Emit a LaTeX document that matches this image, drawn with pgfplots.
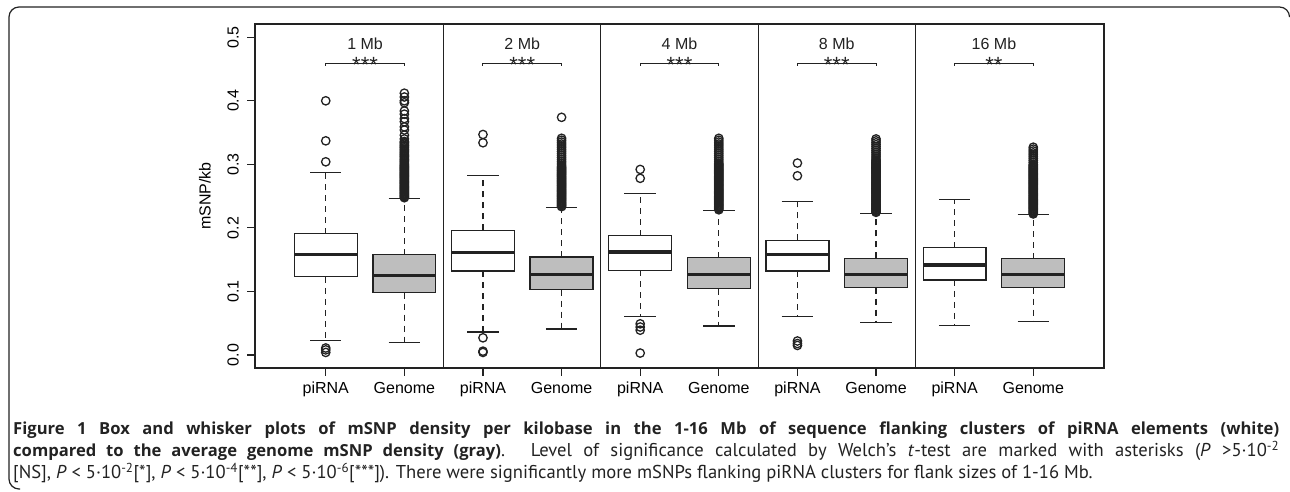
\documentclass[border=0pt]{standalone}
\usepackage{pgfplots}
\pgfplotsset{compat=1.18}
\usepgfplotslibrary{statistics}
\usepackage{fontspec}
\setmainfont{Liberation Sans}
\newfontfamily\capfont{PT Sans}
\newfontfamily\capbold{Open Sans}
\definecolor{rgray}{HTML}{BEBEBE}
\definecolor{ink}{HTML}{222222}

\pgfplotsset{
  rbox/.style={
    draw=ink, line width=1.3pt, mark=o, mark size=4.2pt,
    mark options={solid, line width=1.3pt, draw=ink},
    boxplot/box extend=0.8, boxplot/whisker extend=0.4,
    boxplot/every median/.style={line width=3.2pt},
    boxplot/draw/lower whisker/.code={%
      \draw[/pgfplots/boxplot/every whisker/.try, line width=1.1pt, dash pattern=on 6pt off 5pt]
        (boxplot cs:\pgfplotsboxplotvalue{lower quartile}) --
        (boxplot cs:\pgfplotsboxplotvalue{lower whisker});
      \draw[/pgfplots/boxplot/every whisker/.try, line width=1.2pt]
        (boxplot whisker cs:\pgfplotsboxplotvalue{lower whisker},0) --
        (boxplot whisker cs:\pgfplotsboxplotvalue{lower whisker},1);
    },
    boxplot/draw/upper whisker/.code={%
      \draw[/pgfplots/boxplot/every whisker/.try, line width=1.1pt, dash pattern=on 6pt off 5pt]
        (boxplot cs:\pgfplotsboxplotvalue{upper quartile}) --
        (boxplot cs:\pgfplotsboxplotvalue{upper whisker});
      \draw[/pgfplots/boxplot/every whisker/.try, line width=1.2pt]
        (boxplot whisker cs:\pgfplotsboxplotvalue{upper whisker},0) --
        (boxplot whisker cs:\pgfplotsboxplotvalue{upper whisker},1);
    },
  },
  white box/.style={rbox, boxplot/every box/.style={fill=white}},
  gray box/.style={rbox, boxplot/every box/.style={fill=rgray}},
}

\begin{document}
\begin{tikzpicture}[font=\fontsize{16}{19}\selectfont]
\useasboundingbox (0,0) rectangle (1290pt,492pt);
\draw[ink, line width=1.2pt, rounded corners=10pt] (20pt,3pt) -| (9pt,485pt) -| (1289.5pt,476pt);

\begin{axis}[
  at={(255pt,124pt)}, anchor=south west,
  width=849pt, height=344pt, scale only axis,
  xmin=0.1, xmax=10.9, ymin=-0.0205, ymax=0.5209,
  boxplot/draw direction=y,
  axis line style={ink, line width=1.2pt},
  xtick={1,...,10},
  xticklabels={piRNA,Genome,piRNA,Genome,piRNA,Genome,piRNA,Genome,piRNA,Genome},
  ytick={0,0.1,0.2,0.3,0.4,0.5},
  yticklabels={0.0,0.1,0.2,0.3,0.4,0.5},
  xtick pos=bottom, ytick pos=left, tick align=outside,
  major tick length=8pt,
  tick style={ink, line width=1.2pt},
  /pgf/number format/assume math mode=true,
  yticklabel style={rotate=90, anchor=south, inner xsep=0pt, inner ysep=8pt},
  xticklabel style={anchor=north, inner sep=0pt, yshift=-6pt},
  ylabel={mSNP/kb},
  every axis y label/.style={at={(axis description cs:-0.059,0.5)}, rotate=90, anchor=center},
  clip=false,
]
% 1 Mb
\addplot[white box, boxplot prepared={draw position=1, lower whisker=0.0225, lower quartile=0.123, median=0.1585, upper quartile=0.191, upper whisker=0.287}]
  table[row sep=\\, y index=0] {v\\ 0.400\\ 0.337\\ 0.304\\ 0.011\\ 0.008\\ 0.004\\};
\addplot[gray box, boxplot prepared={draw position=2, lower whisker=0.0195, lower quartile=0.098, median=0.1255, upper quartile=0.158, upper whisker=0.246}]
  table[row sep=\\, y index=0] {v\\ 0.412\\ 0.406\\ 0.400\\ 0.397\\ 0.384\\ 0.379\\ 0.372\\ 0.367\\ 0.359\\ 0.354\\ 0.346\\ 0.340\\ 0.336\\ 0.334\\ 0.332\\ 0.330\\ 0.328\\ 0.326\\ 0.324\\ 0.322\\ 0.320\\ 0.318\\ 0.316\\ 0.314\\ 0.312\\ 0.310\\ 0.308\\ 0.306\\ 0.304\\ 0.302\\ 0.300\\ 0.2985\\ 0.297\\ 0.2955\\ 0.294\\ 0.2925\\ 0.291\\ 0.2895\\ 0.288\\ 0.2865\\ 0.285\\ 0.2835\\ 0.282\\ 0.2805\\ 0.279\\ 0.2775\\ 0.276\\ 0.2745\\ 0.273\\ 0.2715\\ 0.270\\ 0.2685\\ 0.267\\ 0.2655\\ 0.264\\ 0.2625\\ 0.261\\ 0.2595\\ 0.258\\ 0.2565\\ 0.255\\ 0.2535\\ 0.252\\ 0.2505\\ 0.249\\ 0.2475\\};
% 2 Mb
\addplot[white box, boxplot prepared={draw position=3, lower whisker=0.036, lower quartile=0.132, median=0.161, upper quartile=0.196, upper whisker=0.282}]
  table[row sep=\\, y index=0] {v\\ 0.347\\ 0.334\\ 0.027\\ 0.006\\ 0.004\\};
\addplot[gray box, boxplot prepared={draw position=4, lower whisker=0.041, lower quartile=0.103, median=0.1265, upper quartile=0.154, upper whisker=0.2325}]
  table[row sep=\\, y index=0] {v\\ 0.374\\ 0.341\\ 0.338\\ 0.335\\ 0.332\\ 0.329\\ 0.326\\ 0.323\\ 0.320\\ 0.317\\ 0.314\\ 0.311\\ 0.308\\ 0.305\\ 0.302\\ 0.299\\ 0.2965\\ 0.295\\ 0.2935\\ 0.292\\ 0.2905\\ 0.289\\ 0.2875\\ 0.286\\ 0.2845\\ 0.283\\ 0.2815\\ 0.280\\ 0.2785\\ 0.277\\ 0.2755\\ 0.274\\ 0.2725\\ 0.271\\ 0.2695\\ 0.268\\ 0.2665\\ 0.265\\ 0.2635\\ 0.262\\ 0.2605\\ 0.259\\ 0.2575\\ 0.256\\ 0.2545\\ 0.253\\ 0.2515\\ 0.250\\ 0.2485\\ 0.247\\ 0.2455\\ 0.244\\ 0.2425\\ 0.241\\ 0.2395\\ 0.238\\ 0.2365\\ 0.235\\ 0.2335\\};
% 4 Mb
\addplot[white box, boxplot prepared={draw position=5, lower whisker=0.061, lower quartile=0.133, median=0.162, upper quartile=0.188, upper whisker=0.2545}]
  table[row sep=\\, y index=0] {v\\ 0.292\\ 0.278\\ 0.049\\ 0.044\\ 0.039\\ 0.003\\};
\addplot[gray box, boxplot prepared={draw position=6, lower whisker=0.0457, lower quartile=0.1045, median=0.1265, upper quartile=0.153, upper whisker=0.227}]
  table[row sep=\\, y index=0] {v\\ 0.341\\ 0.338\\ 0.335\\ 0.332\\ 0.329\\ 0.326\\ 0.323\\ 0.320\\ 0.317\\ 0.314\\ 0.311\\ 0.308\\ 0.305\\ 0.302\\ 0.3005\\ 0.299\\ 0.2975\\ 0.296\\ 0.2945\\ 0.293\\ 0.2915\\ 0.290\\ 0.2885\\ 0.287\\ 0.2855\\ 0.284\\ 0.2825\\ 0.281\\ 0.2795\\ 0.278\\ 0.2765\\ 0.275\\ 0.2735\\ 0.272\\ 0.2705\\ 0.269\\ 0.2675\\ 0.266\\ 0.2645\\ 0.263\\ 0.2615\\ 0.260\\ 0.2585\\ 0.257\\ 0.2555\\ 0.254\\ 0.2525\\ 0.251\\ 0.2495\\ 0.248\\ 0.2465\\ 0.245\\ 0.2435\\ 0.242\\ 0.2405\\ 0.239\\ 0.2375\\ 0.236\\ 0.2345\\ 0.233\\ 0.2315\\ 0.230\\ 0.2285\\};
% 8 Mb
\addplot[white box, boxplot prepared={draw position=7, lower whisker=0.0605, lower quartile=0.132, median=0.1585, upper quartile=0.1805, upper whisker=0.241}]
  table[row sep=\\, y index=0] {v\\ 0.302\\ 0.282\\ 0.022\\ 0.018\\ 0.015\\};
\addplot[gray box, boxplot prepared={draw position=8, lower whisker=0.051, lower quartile=0.106, median=0.1265, upper quartile=0.152, upper whisker=0.2225}]
  table[row sep=\\, y index=0] {v\\ 0.340\\ 0.337\\ 0.334\\ 0.331\\ 0.328\\ 0.325\\ 0.322\\ 0.319\\ 0.316\\ 0.313\\ 0.310\\ 0.307\\ 0.3055\\ 0.304\\ 0.3025\\ 0.301\\ 0.2995\\ 0.298\\ 0.2965\\ 0.295\\ 0.2935\\ 0.292\\ 0.2905\\ 0.289\\ 0.2875\\ 0.286\\ 0.2845\\ 0.283\\ 0.2815\\ 0.280\\ 0.2785\\ 0.277\\ 0.2755\\ 0.274\\ 0.2725\\ 0.271\\ 0.2695\\ 0.268\\ 0.2665\\ 0.265\\ 0.2635\\ 0.262\\ 0.2605\\ 0.259\\ 0.2575\\ 0.256\\ 0.2545\\ 0.253\\ 0.2515\\ 0.250\\ 0.2485\\ 0.247\\ 0.2455\\ 0.244\\ 0.2425\\ 0.241\\ 0.2395\\ 0.238\\ 0.2365\\ 0.235\\ 0.2335\\ 0.232\\ 0.2305\\ 0.229\\ 0.2275\\ 0.226\\ 0.2245\\};
% 16 Mb
\addplot[white box, boxplot prepared={draw position=9, lower whisker=0.046, lower quartile=0.118, median=0.1417, upper quartile=0.169, upper whisker=0.245}]
  coordinates {};
\addplot[gray box, boxplot prepared={draw position=10, lower whisker=0.053, lower quartile=0.106, median=0.127, upper quartile=0.1517, upper whisker=0.221}]
  table[row sep=\\, y index=0] {v\\ 0.327\\ 0.324\\ 0.321\\ 0.318\\ 0.315\\ 0.312\\ 0.309\\ 0.306\\ 0.303\\ 0.300\\ 0.2985\\ 0.297\\ 0.2955\\ 0.294\\ 0.2925\\ 0.291\\ 0.2895\\ 0.288\\ 0.2865\\ 0.285\\ 0.2835\\ 0.282\\ 0.2805\\ 0.279\\ 0.2775\\ 0.276\\ 0.2745\\ 0.273\\ 0.2715\\ 0.270\\ 0.2685\\ 0.267\\ 0.2655\\ 0.264\\ 0.2625\\ 0.261\\ 0.2595\\ 0.258\\ 0.2565\\ 0.255\\ 0.2535\\ 0.252\\ 0.2505\\ 0.249\\ 0.2475\\ 0.246\\ 0.2445\\ 0.243\\ 0.2415\\ 0.240\\ 0.2385\\ 0.237\\ 0.2355\\ 0.234\\ 0.2325\\ 0.231\\ 0.2295\\ 0.228\\ 0.2265\\ 0.225\\ 0.2235\\ 0.222\\};

% panel dividers
\addplot[ink, line width=1.2pt] coordinates {(2.5,-0.0205) (2.5,0.5209)};
\addplot[ink, line width=1.2pt] coordinates {(4.5,-0.0205) (4.5,0.5209)};
\addplot[ink, line width=1.2pt] coordinates {(6.5,-0.0205) (6.5,0.5209)};
\addplot[ink, line width=1.2pt] coordinates {(8.5,-0.0205) (8.5,0.5209)};

% significance brackets
\addplot[ink, line width=1pt] coordinates {(1,0.4555) (1,0.4595) (2,0.4595) (2,0.4555)};
\addplot[ink, line width=1pt] coordinates {(3,0.4555) (3,0.4595) (4,0.4595) (4,0.4555)};
\addplot[ink, line width=1pt] coordinates {(5,0.4555) (5,0.4595) (6,0.4595) (6,0.4555)};
\addplot[ink, line width=1pt] coordinates {(7,0.4555) (7,0.4595) (8,0.4595) (8,0.4555)};
\addplot[ink, line width=1pt] coordinates {(9,0.4555) (9,0.4595) (10,0.4595) (10,0.4555)};

\node[text=ink] at (axis cs:1.5,0.4895) {1 Mb};
\node[text=ink] at (axis cs:3.5,0.4895) {2 Mb};
\node[text=ink] at (axis cs:5.5,0.4895) {4 Mb};
\node[text=ink] at (axis cs:7.5,0.4895) {8 Mb};
\node[text=ink] at (axis cs:9.5,0.4895) {16 Mb};
\begin{scope}[every node/.style={anchor=base, text=ink, font=\fontsize{22}{22}\selectfont}]
\node at (axis cs:1.5,0.444) {***};
\node at (axis cs:3.5,0.444) {***};
\node at (axis cs:5.5,0.444) {***};
\node at (axis cs:7.5,0.444) {***};
\node at (axis cs:9.5,0.444) {**};
\end{scope}
\end{axis}

\begin{scope}[every node/.style={anchor=base west, inner sep=0pt, font=\capfont\fontsize{18.6}{22}\selectfont, text=ink}]
\node at (13pt,57pt) {\makebox[1266pt][s]{\capbold\fontsize{16.6}{22}\selectfont\bfseries Figure 1 Box and whisker plots of mSNP density per kilobase in the 1-16 Mb of sequence flanking clusters of piRNA elements (white)}};
\node at (13pt,35pt) {\makebox[1266pt][s]{{\capbold\fontsize{16.6}{22}\selectfont\bfseries compared to the average genome mSNP density (gray)}. Level of significance calculated by Welch’s \textit{t}-test are marked with asterisks (\textit{P} >5·10\textsuperscript{-2}}};
\node at (13pt,13pt) {[NS], \textit{P} < 5·10\textsuperscript{-2}[*], \textit{P} < 5·10\textsuperscript{-4}[**], \textit{P} < 5·10\textsuperscript{-6}[***]). There were significantly more mSNPs flanking piRNA clusters for flank sizes of 1-16 Mb.};
\end{scope}
\end{tikzpicture}
\end{document}
